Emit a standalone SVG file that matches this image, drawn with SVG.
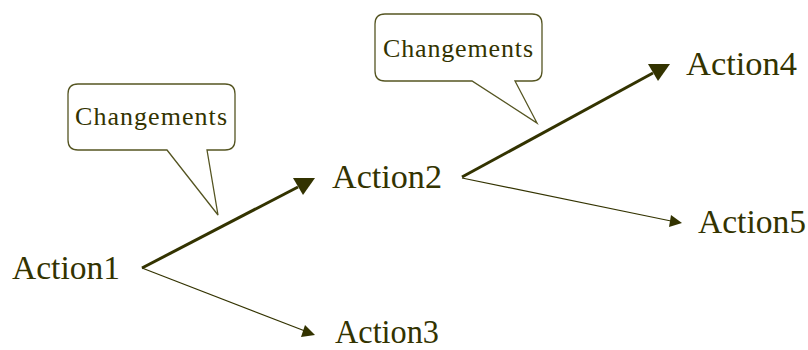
<svg xmlns="http://www.w3.org/2000/svg" width="808" height="350" viewBox="0 0 808 350">
<defs>
<style>
.lbl{font-family:"Liberation Serif","Times New Roman",serif;font-size:33.5px;fill:#333300}
.cl{font-family:"Liberation Serif","Times New Roman",serif;font-size:26px;fill:#333300}
.callout{fill:#ffffff;stroke:#555522;stroke-width:1.3}
.thick{stroke:#333300;stroke-width:3;fill:none}
.thin{stroke:#333300;stroke-width:1.2;fill:none}
.head{fill:#333300}
</style>
</defs>
<rect width="808" height="350" fill="#ffffff"/>
<g id="callout1">
<path class="callout" d="M78,84 H225 Q235,84 235,94 V140 Q235,150 225,150 H207 L218,215 L167,150 H78 Q68,150 68,140 V94 Q68,84 78,84 Z"/>
<text class="cl" x="75" y="125" textLength="152" lengthAdjust="spacing">Changements</text>
</g>
<g id="callout2">
<path class="callout" d="M385,14 H532 Q542,14 542,24 V71 Q542,81 532,81 H515 L537,123 L472,81 H385 Q375,81 375,71 V24 Q375,14 385,14 Z"/>
<text class="cl" x="383" y="57" textLength="150" lengthAdjust="spacing">Changements</text>
</g>
<g id="connectors">
<line class="thick" x1="142" y1="268" x2="298" y2="187"/>
<polygon class="head" points="315,178 293,178 303,195"/>
<line class="thin" x1="142" y1="268" x2="305" y2="331"/>
<polygon class="head" points="315,335 301,337 305,325"/>
<line class="thick" x1="462" y1="177" x2="653" y2="73"/>
<polygon class="head" points="670,64 648,64 658,81"/>
<line class="thin" x1="462" y1="178" x2="671" y2="221"/>
<polygon class="head" points="682,223 669,227 671,215"/>
</g>
<g id="action1"><text class="lbl" x="12" y="279" textLength="108" lengthAdjust="spacingAndGlyphs">Action1</text></g>
<g id="action2"><text class="lbl" x="332" y="188" textLength="110" lengthAdjust="spacingAndGlyphs">Action2</text></g>
<g id="action3"><text class="lbl" x="335" y="343" textLength="104" lengthAdjust="spacingAndGlyphs">Action3</text></g>
<g id="action4"><text class="lbl" x="686" y="75" textLength="111" lengthAdjust="spacingAndGlyphs">Action4</text></g>
<g id="action5"><text class="lbl" x="698" y="233" textLength="108" lengthAdjust="spacingAndGlyphs">Action5</text></g>
</svg>
